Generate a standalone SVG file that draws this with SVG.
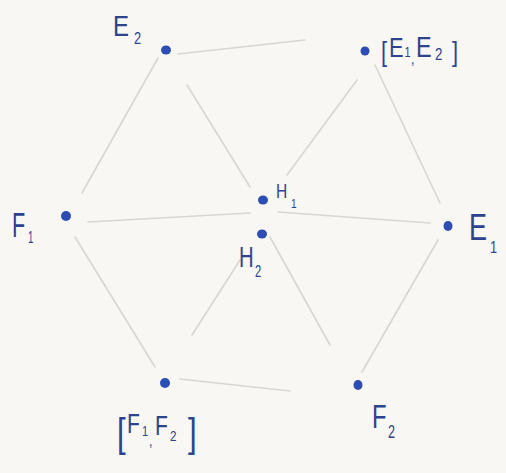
<svg xmlns="http://www.w3.org/2000/svg" width="506" height="473" viewBox="0 0 506 473">
<style>
.bg{fill:#f8f7f3}
.edge{stroke:#d7d7d2;stroke-width:1.6;stroke-linecap:round;fill:none}
.dot{fill:#2c4db3}
.lbl{fill:#2d438f;font-family:"Liberation Sans",Arial,sans-serif}
</style>
<rect class="bg" x="0" y="0" width="506" height="473"/>
<g id="connectors">
<line class="edge" x1="178" y1="54" x2="305" y2="40"/>
<line class="edge" x1="158" y1="58" x2="82" y2="193"/>
<line class="edge" x1="75" y1="237" x2="155" y2="367"/>
<line class="edge" x1="180" y1="379" x2="290" y2="391"/>
<line class="edge" x1="362" y1="372" x2="438" y2="240"/>
<line class="edge" x1="375" y1="65" x2="440" y2="203"/>
<line class="edge" x1="88" y1="222" x2="250" y2="213"/>
<line class="edge" x1="278" y1="212" x2="430" y2="223"/>
<line class="edge" x1="187" y1="85" x2="250" y2="187"/>
<line class="edge" x1="357" y1="80" x2="287" y2="175"/>
<line class="edge" x1="240" y1="260" x2="192" y2="335"/>
<line class="edge" x1="270" y1="237" x2="330" y2="345"/>
</g>
<g id="E2">
<ellipse class="dot" cx="166" cy="50" rx="5" ry="4.5"/>
<text class="lbl" transform="translate(113,36) scale(0.8,1)"><tspan x="0" y="0" font-size="30">E</tspan><tspan x="26.2" y="8" font-size="16">2</tspan></text>
</g>
<g id="E1E2">
<ellipse class="dot" cx="365" cy="51" rx="4.5" ry="4.5"/>
<text class="lbl" transform="translate(381,61) scale(0.78,1)"><tspan x="0" y="0" font-size="28">[</tspan><tspan x="10.3" y="-4" font-size="28">E</tspan><tspan x="30.1" y="-4" font-size="14">1</tspan><tspan x="38.5" y="3" font-size="16">,</tspan><tspan x="44.9" y="-4" font-size="30">E</tspan><tspan x="69.2" y="-1" font-size="17">2</tspan><tspan x="91" y="0" font-size="28">]</tspan></text>
</g>
<g id="F1">
<ellipse class="dot" cx="66" cy="216" rx="5" ry="5"/>
<text class="lbl" transform="translate(12,237) scale(0.6,1)"><tspan x="0" y="0" font-size="36">F</tspan><tspan x="26.7" y="6" font-size="16">1</tspan></text>
</g>
<g id="H1">
<ellipse class="dot" cx="263" cy="200" rx="5" ry="4.5"/>
<text class="lbl" transform="translate(276,198) scale(0.78,1)"><tspan x="0" y="0" font-size="20">H</tspan><tspan x="19.2" y="10" font-size="13">1</tspan></text>
</g>
<g id="H2">
<ellipse class="dot" cx="262" cy="234" rx="5" ry="4.5"/>
<text class="lbl" transform="translate(239,267) scale(0.7,1)"><tspan x="0" y="0" font-size="29">H</tspan><tspan x="22.9" y="10" font-size="16">2</tspan></text>
</g>
<g id="E1">
<ellipse class="dot" cx="448" cy="226" rx="4.5" ry="5"/>
<text class="lbl" transform="translate(469,240) scale(0.75,1)"><tspan x="0" y="0" font-size="36">E</tspan><tspan x="28" y="13" font-size="17">1</tspan></text>
</g>
<g id="F1F2">
<ellipse class="dot" cx="165" cy="383" rx="5" ry="5"/>
<text class="lbl" transform="translate(117,447) scale(0.78,1)"><tspan x="0" y="0" font-size="40">[</tspan><tspan x="12.8" y="-14" font-size="27">F</tspan><tspan x="32" y="-11" font-size="14">1</tspan><tspan x="41" y="-1" font-size="16">,</tspan><tspan x="48.7" y="-12" font-size="27">F</tspan><tspan x="67.9" y="-6" font-size="15">2</tspan><tspan x="91" y="0" font-size="40">]</tspan></text>
</g>
<g id="F2">
<ellipse class="dot" cx="358" cy="385" rx="4.5" ry="5"/>
<text class="lbl" transform="translate(372,428) scale(0.7,1)"><tspan x="0" y="0" font-size="34">F</tspan><tspan x="22.9" y="10" font-size="18">2</tspan></text>
</g>
</svg>
